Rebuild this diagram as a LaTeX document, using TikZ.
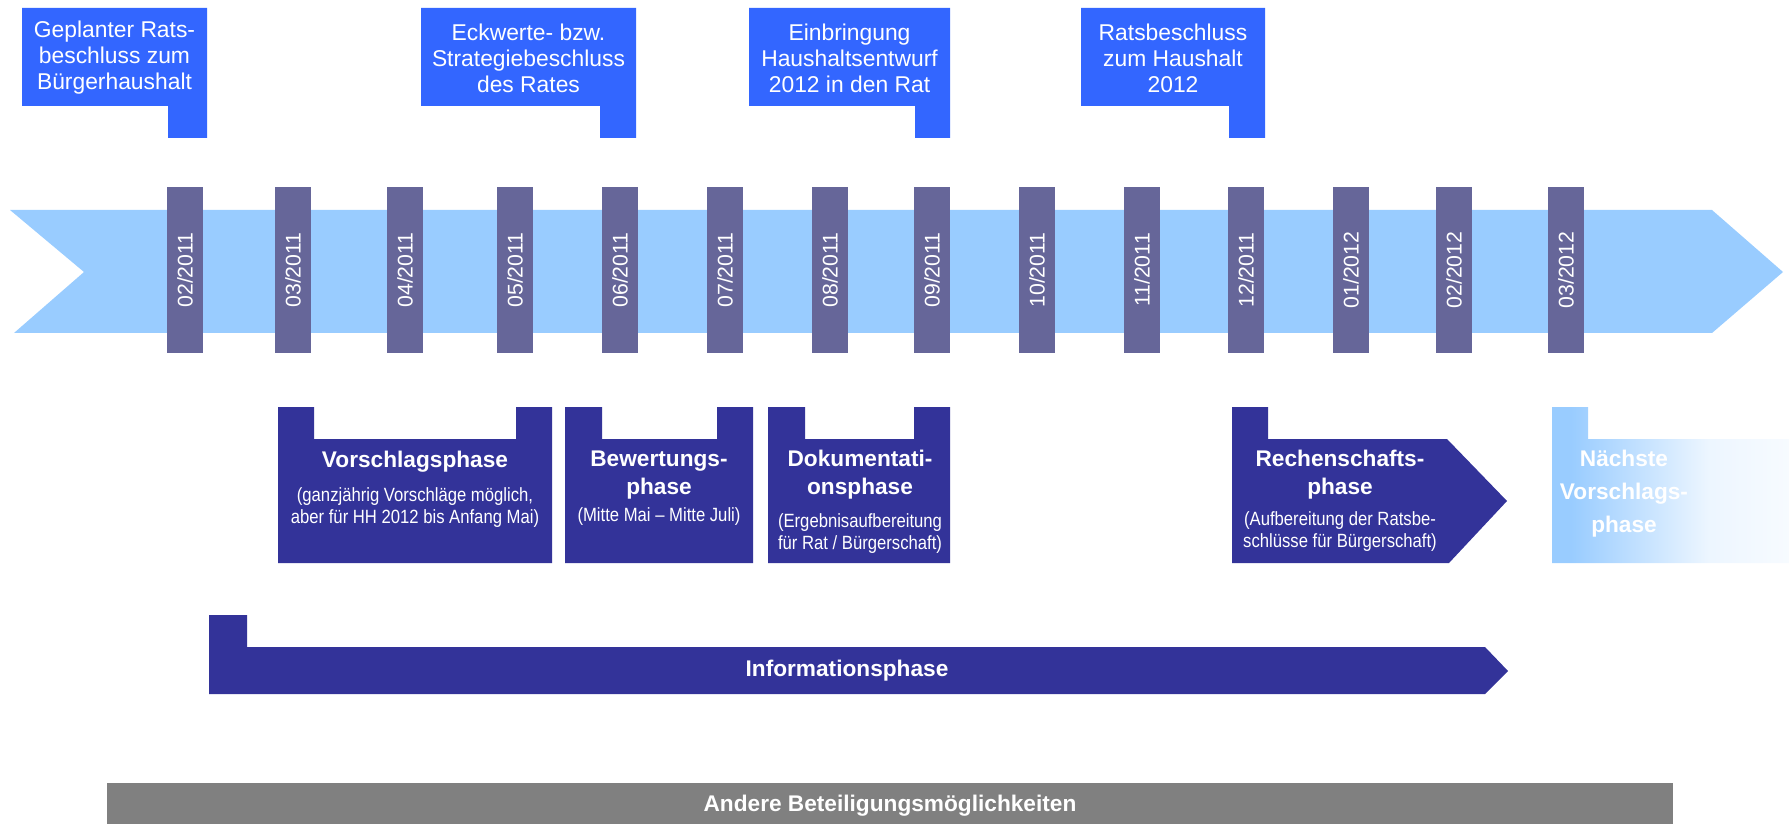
\documentclass[tikz,border=0pt]{standalone}
\usepackage{fontspec}
\setmainfont{Liberation Sans}
\usepackage{tikz}

\definecolor{calloutblue}{HTML}{3366FF}
\definecolor{ribbonblue}{HTML}{99CCFF}
\definecolor{barpurple}{HTML}{666699}
\definecolor{phasenavy}{HTML}{333399}
\definecolor{othergrey}{HTML}{808080}
\colorlet{fadepale}{ribbonblue!18!white}
\colorlet{fadeend}{ribbonblue!8!white}
\pgfdeclarehorizontalshading{nextfade}{100bp}{color(0bp)=(ribbonblue); color(29bp)=(ribbonblue); color(58bp)=(fadepale); color(75bp)=(fadeend); color(100bp)=(fadeend)}

\begin{document}
\begin{tikzpicture}[
		x=0.02cm, y=-0.02cm,
		every node/.style={text=white, inner sep=0pt, align=center},
		calltext/.style={font=\fontsize{13}{14.8}\selectfont},
		monthbar/.style={fill=barpurple, rotate=90, minimum width=3.32cm, minimum height=0.72cm, font=\fontsize{12.1}{14}\selectfont},
		phasetitle/.style={font=\bfseries\fontsize{12.9}{15.9}\selectfont},
		phasenote/.style={font=\addfontfeature{FakeStretch=0.87}\fontsize{10.9}{12.5}\selectfont}
	]
  \useasboundingbox (0,0) rectangle (1789,824);
  \fill[ribbonblue] (10,210) -- (1712,210) -- (1783,272) -- (1712,333) -- (14,333) -- (84,272) -- cycle;

  \fill[calloutblue] (22,8) -- (207,8) -- (207,138) -- (168,138) -- (168,106) -- (22,106) -- cycle;
  \fill[calloutblue] (421,8) -- (636,8) -- (636,138) -- (600,138) -- (600,106) -- (421,106) -- cycle;
  \fill[calloutblue] (749,8) -- (950,8) -- (950,138) -- (915,138) -- (915,106) -- (749,106) -- cycle;
  \fill[calloutblue] (1081,8) -- (1265,8) -- (1265,138) -- (1229,138) -- (1229,106) -- (1081,106) -- cycle;
  \node (beschluss_bh) [calltext] at (114.5,58) {Geplanter Rats-\\beschluss zum\\Bürgerhaushalt};
  \node (beschluss_eck) [calltext] at (528.5,58) {Eckwerte- bzw.\\Strategiebeschluss\\des Rates};
  \node (einbringung) [calltext] at (849.5,58) {Einbringung\\Haushaltsentwurf\\2012 in den Rat};
  \node (beschluss_hh) [calltext] at (1173,58) {Ratsbeschluss\\zum Haushalt\\2012};

  \node (bar_02_11) [monthbar] at (185,270) {02/2011};
  \node (bar_03_11) [monthbar] at (293,270) {03/2011};
  \node (bar_04_11) [monthbar] at (405,270) {04/2011};
  \node (bar_05_11) [monthbar] at (515,270) {05/2011};
  \node (bar_06_11) [monthbar] at (620,270) {06/2011};
  \node (bar_07_11) [monthbar] at (725,270) {07/2011};
  \node (bar_08_11) [monthbar] at (830,270) {08/2011};
  \node (bar_09_11) [monthbar] at (932,270) {09/2011};
  \node (bar_10_11) [monthbar] at (1037,270) {10/2011};
  \node (bar_11_11) [monthbar] at (1142,270) {11/2011};
  \node (bar_12_11) [monthbar] at (1246,270) {12/2011};
  \node (bar_01_12) [monthbar] at (1351,270) {01/2012};
  \node (bar_02_12) [monthbar] at (1454,270) {02/2012};
  \node (bar_03_12) [monthbar] at (1566,270) {03/2012};

  \fill[phasenavy] (278,563) -- (278,407) -- (314,407) -- (314,439) -- (516,439) -- (516,407) -- (552,407) -- (552,563) -- cycle;
  \fill[phasenavy] (565,563) -- (565,407) -- (602,407) -- (602,439) -- (717,439) -- (717,407) -- (753,407) -- (753,563) -- cycle;
  \fill[phasenavy] (768,563) -- (768,407) -- (805,407) -- (805,439) -- (914,439) -- (914,407) -- (950,407) -- (950,563) -- cycle;
  \fill[phasenavy] (1232,563) -- (1232,407) -- (1268,407) -- (1268,439) -- (1447,439) -- (1507,501) -- (1449,563) -- cycle;
  \shade[shading=nextfade] (1552,563) -- (1552,407) -- (1588,407) -- (1588,439) -- (1789,439) -- (1789,563) -- cycle;
  \node (vorschlag) [phasetitle] at (415,462) {Vorschlagsphase};
  \node (vorschlag_note) [phasenote] at (415,508) {(ganzjährig Vorschläge möglich,\\aber für HH 2012 bis Anfang Mai)};
  \node (bewertung) [phasetitle] at (659,475) {Bewertungs-\\phase};
  \node (bewertung_note) [phasenote] at (659,517) {(Mitte Mai – Mitte Juli)};
  \node (doku) [phasetitle] at (860,475) {Dokumentati-\\onsphase};
  \node (doku_note) [phasenote] at (860,534) {(Ergebnisaufbereitung\\für Rat / Bürgerschaft)};
  \node (rechenschaft) [phasetitle] at (1340,475) {Rechenschafts-\\phase};
  \node (rechenschaft_note) [phasenote] at (1340,532) {(Aufbereitung der Ratsbe-\\schlüsse für Bürgerschaft)};
  \node (naechste) [phasetitle, font=\bfseries\fontsize{12.9}{18.8}\selectfont] at (1624,494) {Nächste\\Vorschlags-\\phase};

  \fill[phasenavy] (209,694) -- (209,615) -- (247,615) -- (247,647) -- (1485,647) -- (1508,671) -- (1485,694) -- cycle;
  \node (information) [phasetitle] at (847,671) {Informationsphase};

  \fill[othergrey] (107,783) rectangle (1673,824);
  \node (andere) [phasetitle] at (890,806) {Andere Beteiligungsmöglichkeiten};
\end{tikzpicture}
\end{document}
